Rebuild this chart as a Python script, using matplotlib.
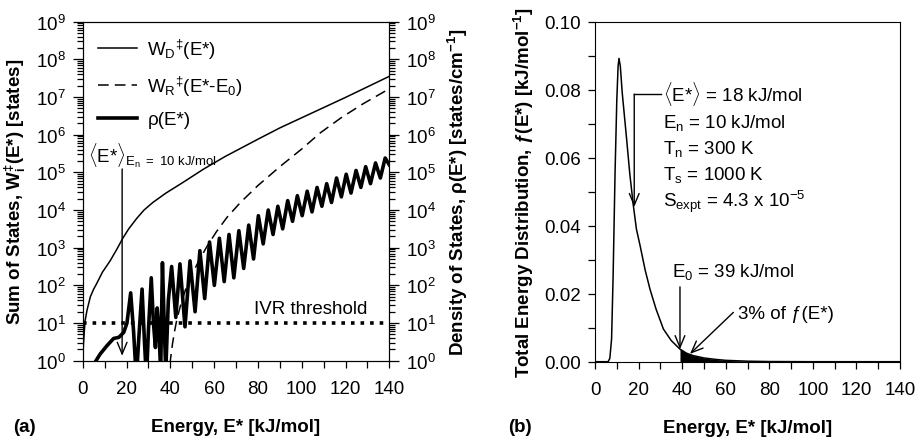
import numpy as np
import matplotlib
matplotlib.use('Agg')
import matplotlib.pyplot as plt
from matplotlib.ticker import MultipleLocator, LogLocator, NullFormatter, FormatStrFormatter

plt.rcParams['font.family'] = ['Liberation Sans', 'DejaVu Sans']
plt.rcParams['mathtext.fontset'] = 'custom'
plt.rcParams['mathtext.rm'] = 'Liberation Sans'
plt.rcParams['mathtext.it'] = 'Liberation Sans:italic'
plt.rcParams['mathtext.bf'] = 'Liberation Sans:bold'
plt.rcParams['font.size'] = 13.5

# sum of states of the dissociation TS, W_D(E*), log10 values
wd_e = [0, 0.3, 0.7, 1.05, 2, 3.5, 5, 6.4, 9, 12.5, 15.5, 18.3, 21, 24.7, 28, 32, 38, 45.7,
        55, 65, 80, 90, 100, 110, 120, 130, 140]
wd_log = [0, 0.4, 0.75, 1.05, 1.35, 1.7, 1.9, 2.05, 2.35, 2.65, 2.95, 3.25, 3.5, 3.78, 4.0, 4.2,
          4.45, 4.73, 5.08, 5.42, 5.88, 6.18, 6.45, 6.72, 6.99, 7.27, 7.55]

# sum of states of the reaction TS, W_R(E*-E0)
wr_e = [39.5, 40, 41, 42, 43, 44.5, 47, 50, 53, 56.7, 61, 65.8, 72, 80, 90.2, 100, 108.5, 118, 128, 140]
wr_log = [-0.1, 0.0, 0.45, 0.8, 1.1, 1.43, 1.9, 2.3, 2.65, 3.03, 3.42, 3.8, 4.2, 4.65, 5.16, 5.62,
          6.05, 6.45, 6.82, 7.22]

# density of states rho(E*)
rho_e = [5.0, 8.0, 11.1, 14.1, 16.5, 18.7, 20.2, 21.9, 23.2, 24.5, 25.5, 27.1, 28.2, 29.1, 30.0,
         31.3, 32.3, 33.2, 34.0, 34.8, 35.6, 36.4, 37.2, 37.9, 39.1, 40.6, 42.5, 44.4, 46.7, 49.0,
         51.3, 53.5, 55.7, 57.9, 60.1, 62.4, 64.6, 66.8, 69.0, 71.3, 73.5, 75.8, 78.0, 80.2, 82.4,
         84.7, 86.9, 89.1, 91.3, 93.6, 95.8, 98.0, 100.2, 102.5, 104.7, 107.0, 109.2, 111.4, 113.6,
         115.9, 118.1, 120.3, 122.5, 124.8, 127.0, 129.2, 131.4, 133.7, 135.9, 138.1, 140.0]
rho_log = [-0.1, 0.18, 0.4, 0.59, 0.62, 0.75, 1.0, 1.8, 0.8, -0.5, 0.5, 1.9, 0.5, -0.5, 0.8,
           2.2, 1.0, 0.35, 1.4, 0.8, -0.3, 2.6, 1.0, -0.3, 1.6, 2.5, 1.15, 2.57, 0.9, 2.65,
           1.3, 2.92, 1.65, 3.15, 2.0, 3.25, 2.1, 3.35, 2.2, 3.45, 2.45, 3.6, 2.7, 3.85, 3.1,
           4.0, 3.35, 4.1, 3.5, 4.25, 3.7, 4.38, 3.85, 4.5, 3.95, 4.6, 4.1, 4.7, 4.2,
           4.85, 4.35, 4.95, 4.45, 5.05, 4.6, 5.15, 4.7, 5.25, 4.85, 5.38, 5.2]

ivr_level = 10
mean_e = 18      # <E*> for En = 10 kJ/mol
e0 = 39

# total energy distribution f(E*)
f_e = [0, 6.0, 6.8, 7.6, 8.3, 9.2, 10.0, 10.6, 11.0, 11.6, 12.5, 14.5, 16.0, 17.6, 19.0, 20.7,
       23.0, 25.2, 28.0, 31.4, 35.0, 39.0, 42.0, 45.0, 50.0, 55.0, 60.0, 70.0, 80.0, 100.0, 140.0]
f_val = [0, 0, 0.001, 0.0067, 0.025, 0.0557, 0.077, 0.087, 0.0892, 0.087, 0.079, 0.0655, 0.055,
         0.0459, 0.039, 0.0341, 0.027, 0.0214, 0.0155, 0.0096, 0.0062, 0.0037, 0.0025, 0.0018,
         0.0011, 0.0007, 0.0004, 0.00015, 0.00005, 0.0, 0.0]

fig = plt.figure(figsize=(9.15, 4.39), dpi=100)
ax = fig.add_axes([0.0904, 0.1761, 0.3351, 0.7722])
bx = fig.add_axes([0.6503, 0.1738, 0.3333, 0.7745])

arrow = dict(arrowstyle='->,head_length=0.6,head_width=0.25', lw=1, color='k',
             shrinkA=0, shrinkB=0, mutation_scale=14)

# ---- (a) sums and density of states
ax.plot(wd_e, 10 ** np.array(wd_log), 'k-', lw=1.1, label=r'W$_\mathrm{D}$$^\ddag$(E*)')
ax.plot(wr_e, 10 ** np.array(wr_log), 'k', lw=1.1, dashes=(7, 4), label=r'W$_\mathrm{R}$$^\ddag$(E*-E$_0$)')
ax.plot(rho_e, 10 ** np.array(rho_log), 'k-', lw=2.6, solid_joinstyle='round', label='ρ(E*)')
ax.axhline(ivr_level, color='k', ls=':', lw=2.6)
ax.text(78.3, 10 ** 1.27, 'IVR threshold', ha='left', va='baseline')
ax.annotate('', xy=(mean_e, 10 ** 0.13), xytext=(mean_e, 10 ** 5.09), arrowprops=arrow)
ax.text(2.4, 10 ** 5.27, r'$\langle$E*$\rangle_{\mathrm{E_n\ =\ 10\ kJ/mol}}$', ha='left', va='baseline')

ax.set_yscale('log')
ax.set_xlim(0, 140)
ax.set_ylim(1, 1e9)
ax.xaxis.set_major_locator(MultipleLocator(20))
ax.xaxis.set_minor_locator(MultipleLocator(10))
ax.yaxis.set_major_locator(LogLocator(base=10, numticks=12))
ax.yaxis.set_minor_locator(LogLocator(base=10, subs=np.arange(2, 10), numticks=12))
ax.yaxis.set_minor_formatter(NullFormatter())
ax.tick_params(which='both', direction='out', width=0.9)
ax.tick_params(axis='x', which='both', length=5, pad=9)
ax.tick_params(axis='y', which='major', length=7, pad=5)
ax.tick_params(axis='y', which='minor', length=4)
ax.set_xlabel('Energy, E* [kJ/mol]', fontweight='bold', labelpad=15)
ax.set_ylabel(r'Sum of States, W$_\mathbf{i}^\mathbf{\ddag}$(E*) [states]', fontweight='bold', labelpad=6)
ax.legend(loc='upper left', frameon=False, handlelength=2.1, handletextpad=0.55,
          labelspacing=0.7, borderaxespad=0.4, bbox_to_anchor=(0.0, 1.0))

ax2 = ax.twinx()
ax2.set_yscale('log')
ax2.set_ylim(1, 1e9)
ax2.yaxis.set_major_locator(LogLocator(base=10, numticks=12))
ax2.yaxis.set_minor_locator(LogLocator(base=10, subs=np.arange(2, 10), numticks=12))
ax2.yaxis.set_minor_formatter(NullFormatter())
ax2.tick_params(which='both', direction='out', width=0.9)
ax2.tick_params(which='major', length=7, pad=5)
ax2.tick_params(which='minor', length=4)
ax2.set_ylabel(r'Density of States, ρ(E*) [states/cm$^\mathbf{-1}$]', fontweight='bold', labelpad=7)

# ---- (b) total energy distribution
bx.plot(f_e, f_val, 'k-', lw=1.1)
fe = np.array(f_e)
bx.fill_between(fe, f_val, where=fe >= e0, color='k', lw=0)
bx.plot([mean_e, 30.5], [0.0787, 0.0787], 'k-', lw=1)
bx.annotate('', xy=(mean_e, 0.0455), xytext=(mean_e, 0.0787), arrowprops=arrow)
info = [r'$\langle$E*$\rangle$ = 18 kJ/mol', r'E$_\mathrm{n}$ = 10 kJ/mol', r'T$_\mathrm{n}$ = 300 K',
        r'T$_\mathrm{s}$ = 1000 K', r'S$_\mathrm{expt}$ = 4.3 x 10$^{-5}$']
for i, s in enumerate(info):
    bx.text(31.1, 0.0768 - i * 0.00773, s, ha='left', va='baseline')
bx.text(35.2, 0.0253, r'E$_0$ = 39 kJ/mol', ha='left', va='baseline')
bx.annotate('', xy=(e0, 0.0037), xytext=(e0, 0.022), arrowprops=arrow)
bx.text(65.6, 0.013, '3% of ƒ(E*)', ha='left', va='baseline')
bx.annotate('', xy=(43.6, 0.0023), xytext=(63.5, 0.0145), arrowprops=arrow)

bx.set_xlim(0, 140)
bx.set_ylim(0, 0.1)
bx.xaxis.set_major_locator(MultipleLocator(20))
bx.xaxis.set_minor_locator(MultipleLocator(10))
bx.yaxis.set_major_locator(MultipleLocator(0.02))
bx.yaxis.set_minor_locator(MultipleLocator(0.01))
bx.yaxis.set_major_formatter(FormatStrFormatter('%.2f'))
bx.tick_params(which='both', direction='out', width=0.9, length=5)
bx.tick_params(axis='x', which='both', pad=9)
bx.tick_params(axis='y', which='both', pad=5)
bx.set_xlabel('Energy, E* [kJ/mol]', fontweight='bold', labelpad=15)
bx.set_ylabel(r'Total Energy Distribution, ƒ(E*) [kJ/mol$^\mathbf{-1}$]', fontweight='bold', labelpad=6)

fig.text(0.014, 0.016, '(a)', fontweight='bold', ha='left', va='baseline')
fig.text(0.555, 0.016, '(b)', fontweight='bold', ha='left', va='baseline')

fig.savefig('out.png', dpi=100)
